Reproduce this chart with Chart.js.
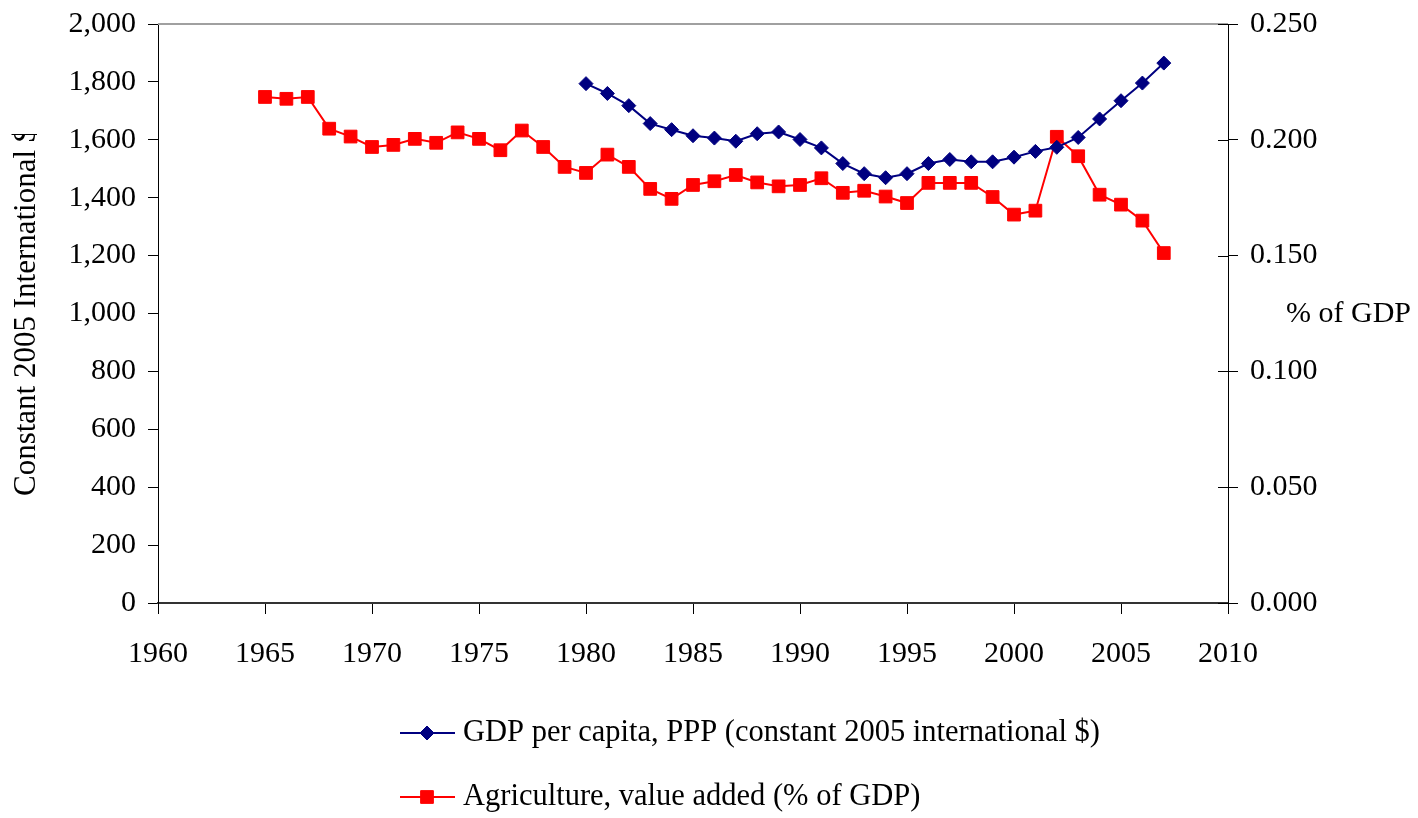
<!DOCTYPE html>
<html>
<head>
<meta charset="utf-8">
<script src="https://cdn.jsdelivr.net/npm/chart.js@4.4.1/dist/chart.umd.min.js"></script>
<style>
  html, body { margin: 0; padding: 0; background: #fff; }
  #wrap { width: 1418px; height: 818px; position: relative; }
</style>
</head>
<body>
<div id="wrap"><canvas id="c" width="1418" height="818"></canvas></div>
<script>
const gdpYears = [1980,1981,1982,1983,1984,1985,1986,1987,1988,1989,1990,1991,1992,1993,1994,1995,1996,1997,1998,1999,2000,2001,2002,2003,2004,2005,2006,2007];
const gdpValues = [1794,1760,1718,1656,1635,1614,1606,1595,1621,1627,1601,1572,1518,1483,1469,1483,1518,1532,1524,1524,1540,1560,1574,1608,1672,1735,1796,1865];
const agriYears = [1965,1966,1967,1968,1969,1970,1971,1972,1973,1974,1975,1976,1977,1978,1979,1980,1981,1982,1983,1984,1985,1986,1987,1988,1989,1990,1991,1992,1993,1994,1995,1996,1997,1998,1999,2000,2001,2002,2003,2004,2005,2006,2007];
const agriValues = [0.2185,0.2177,0.2185,0.2048,0.2014,0.1969,0.1978,0.2004,0.1987,0.2032,0.2004,0.1955,0.2040,0.1969,0.1883,0.1857,0.1936,0.1883,0.1788,0.1745,0.1805,0.1821,0.1848,0.1816,0.1799,0.1805,0.1834,0.1771,0.1780,0.1755,0.1727,0.1814,0.1814,0.1814,0.1753,0.1677,0.1694,0.2013,0.1929,0.1763,0.1720,0.1651,0.1511];
const xTicks = [1960,1965,1970,1975,1980,1985,1990,1995,2000,2005,2010];
const seriesNames = ["GDP per capita, PPP (constant 2005 international $)", "Agriculture, value added (% of GDP)"];
const leftTitle = "Constant 2005 International $";
const rightTitle = "% of GDP";

const FONT = "'Liberation Serif', 'Times New Roman', serif";
const FS = 30;

const extras = {
  id: 'extras',
  afterDraw(chart) {
    const ctx = chart.ctx;
    const a = chart.chartArea;
    const y1 = chart.scales.y1;
    ctx.save();
    // top border
    ctx.strokeStyle = '#a0a0a0';
    ctx.lineWidth = 2;
    ctx.beginPath();
    ctx.moveTo(a.left, a.top);
    ctx.lineTo(a.right, a.top);
    ctx.stroke();
    // right axis inner tick marks
    ctx.strokeStyle = '#000';
    ctx.lineWidth = 1;
    y1.ticks.forEach(t => {
      const py = Math.round(y1.getPixelForValue(t.value)) + 0.5;
      ctx.beginPath();
      ctx.moveTo(a.right - 10, py);
      ctx.lineTo(a.right, py);
      ctx.stroke();
    });
    // left title (clipped like the original)
    ctx.save();
    ctx.beginPath();
    ctx.rect(0, 134, 60, 818 - 134);
    ctx.clip();
    ctx.translate(27, 496);
    ctx.rotate(-Math.PI / 2);
    ctx.fillStyle = '#000';
    ctx.font = '31px ' + FONT;
    ctx.textAlign = 'left';
    ctx.textBaseline = 'middle';
    ctx.fillText(leftTitle, 0, 0);
    ctx.restore();
    // right title
    ctx.fillStyle = '#000';
    ctx.font = FS + 'px ' + FONT;
    ctx.textAlign = 'left';
    ctx.textBaseline = 'middle';
    ctx.fillText(rightTitle, 1286, 314);
    // legend
    const rows = [733, 797];
    chart.data.datasets.forEach((ds, i) => {
      const ly = rows[i];
      ctx.strokeStyle = ds.borderColor;
      ctx.lineWidth = 2;
      ctx.beginPath();
      ctx.moveTo(400, ly);
      ctx.lineTo(455, ly);
      ctx.stroke();
      ctx.fillStyle = ds.pointBackgroundColor;
      ctx.strokeStyle = ds.pointBorderColor;
      ctx.lineWidth = 1;
      Chart.helpers.drawPoint(ctx, {pointStyle: ds.pointStyle, rotation: 0, radius: ds.pointRadius, borderWidth: 1}, 427, ly);
      ctx.fillStyle = '#000';
      ctx.textAlign = 'left';
      ctx.textBaseline = 'middle';
      ctx.font = '30.5px ' + FONT;
      ctx.fillText(ds.label, 463, ly);
    });
    ctx.restore();
  }
};

const noPad = s => { s.paddingTop = 0; s.paddingBottom = 0; };

const ctx = document.getElementById('c').getContext('2d');
const chart = new Chart(ctx, {
  type: 'line',
  data: {
    datasets: [
      {
        label: seriesNames[0],
        data: gdpYears.map((yr, i) => ({x: yr, y: gdpValues[i]})),
        yAxisID: 'y',
        borderColor: '#000080',
        backgroundColor: '#000080',
        pointBackgroundColor: '#000080',
        pointBorderColor: '#000080',
        pointStyle: 'rectRot',
        pointRadius: 7,
        pointBorderWidth: 1,
        borderWidth: 2,
        tension: 0
      },
      {
        label: seriesNames[1],
        data: agriYears.map((yr, i) => ({x: yr, y: agriValues[i]})),
        yAxisID: 'y1',
        borderColor: '#ff0000',
        backgroundColor: '#ff0000',
        pointBackgroundColor: '#ff0000',
        pointBorderColor: '#ff0000',
        pointStyle: 'rect',
        pointRadius: 9,
        pointBorderWidth: 1,
        borderWidth: 2,
        tension: 0
      }
    ]
  },
  options: {
    responsive: false,
    animation: false,
    layout: { padding: { left: 0, right: 0, top: 24, bottom: 0 } },
    plugins: {
      legend: { display: false },
      tooltip: { enabled: false }
    },
    scales: {
      x: {
        type: 'linear',
        min: 1960,
        max: 2010,
        afterBuildTicks: s => { s.ticks = xTicks.map(v => ({value: v})); },
        ticks: {
          callback: v => String(v),
          color: '#000',
          font: { family: FONT, size: FS },
          padding: 22,
          maxRotation: 0,
          autoSkip: false
        },
        grid: { drawOnChartArea: false, tickLength: 11, color: '#000' },
        border: { color: '#333', width: 2 },
        afterFit: s => { s.height = 215; s.paddingLeft = 0; s.paddingRight = 0; }
      },
      y: {
        position: 'left',
        min: 0,
        max: 2000,
        ticks: {
          stepSize: 200,
          callback: v => v.toLocaleString('en-US'),
          color: '#000',
          font: { family: FONT, size: FS },
          padding: 12
        },
        grid: { drawOnChartArea: false, tickLength: 10, color: '#000' },
        border: { color: '#000', width: 1 },
        afterFit: s => { s.width = 158; noPad(s); }
      },
      y1: {
        position: 'right',
        min: 0,
        max: 0.25,
        ticks: {
          stepSize: 0.05,
          callback: v => Number(v).toFixed(3),
          color: '#000',
          font: { family: FONT, size: FS },
          padding: 12
        },
        grid: { drawOnChartArea: false, tickLength: 10, color: '#000' },
        border: { color: '#000', width: 1 },
        afterFit: s => { s.width = 190; noPad(s); }
      }
    }
  },
  plugins: [extras]
});
</script>
</body>
</html>
